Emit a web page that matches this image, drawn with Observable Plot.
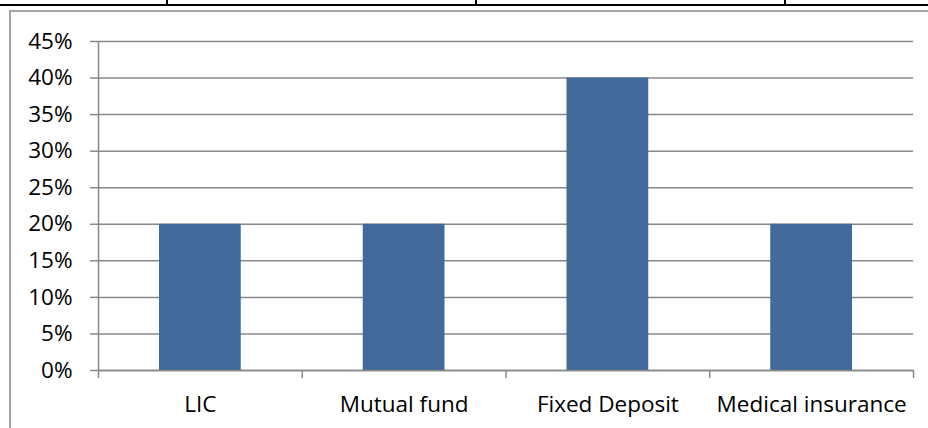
<!DOCTYPE html>
<html>
<head>
<meta charset="utf-8">
<script src="https://cdn.jsdelivr.net/npm/d3@7"></script>
<script src="https://cdn.jsdelivr.net/npm/@observablehq/plot@0.6"></script>
<style>
  html, body { margin: 0; padding: 0; background: #fff; }
  #wrap { position: relative; width: 928px; height: 428px; overflow: hidden; background: #fff; }
  #wrap svg { position: absolute; left: 0; top: 0; }
  .tbl-line { position: absolute; left: 0; top: 4px; width: 928px; height: 2px; background: #000; }
  .tbl-stub { position: absolute; top: 0; width: 2px; height: 5px; background: #000; }
  .chart-border { position: absolute; left: 9px; top: 10px; width: 940px; height: 440px;
                  border-left: 2px solid #a6a6a6; border-top: 2px solid #a6a6a6; box-sizing: border-box; }
</style>
</head>
<body>
<div id="wrap">
  <div class="chart-border"></div>
  <div class="tbl-line"></div>
  <div class="tbl-stub" style="left:166px"></div>
  <div class="tbl-stub" style="left:475px"></div>
  <div class="tbl-stub" style="left:784px"></div>
</div>
<script>
const categories = ["LIC", "Mutual fund", "Fixed Deposit", "Medical insurance"];
const values = [0.20, 0.20, 0.40, 0.20];
const yTicks = [0, 0.05, 0.10, 0.15, 0.20, 0.25, 0.30, 0.35, 0.40, 0.45];

const data = categories.map((c, i) => ({category: c, index: i, value: values[i]}));
const boundaries = d3.range(categories.length + 1);
const centers = categories.map((c, i) => i + 0.5);

const gray = "#888888";
const chart = Plot.plot({
  width: 928,
  height: 428,
  marginTop: 41,
  marginBottom: 58,
  marginLeft: 98,
  marginRight: 15,
  style: {fontFamily: "'Open Sans', 'Noto Sans', sans-serif", fontSize: "22.5px", color: "#000", background: "transparent", overflow: "visible"},
  x: {type: "linear", domain: [0, categories.length]},
  y: {domain: [0, 0.45]},
  marks: [
    Plot.gridY(yTicks, {stroke: gray, strokeOpacity: 1, strokeWidth: 1.5}),
    Plot.rectY(data, {x1: "index", x2: d => d.index + 1, y: "value", fill: "#416A9B", insetLeft: 61, insetRight: 61}),
    Plot.axisY(yTicks, {tickSize: 8, tickPadding: 18, stroke: gray, strokeWidth: 1.5, tickFormat: d => Math.round(d * 100) + "%", fill: "#000", label: null}),
    Plot.axisX(boundaries, {tickSize: 8, stroke: gray, strokeWidth: 1.5, tickFormat: () => "", label: null}),
    Plot.axisX(centers, {tickSize: 0, tickPadding: 26, tickFormat: d => categories[Math.floor(d)], fill: "#000", label: null}),
    Plot.ruleX([0], {stroke: gray, strokeWidth: 1.5}),
    Plot.ruleY([0], {stroke: gray, strokeWidth: 1.5})
  ]
});
document.getElementById("wrap").appendChild(chart);
</script>
</body>
</html>
